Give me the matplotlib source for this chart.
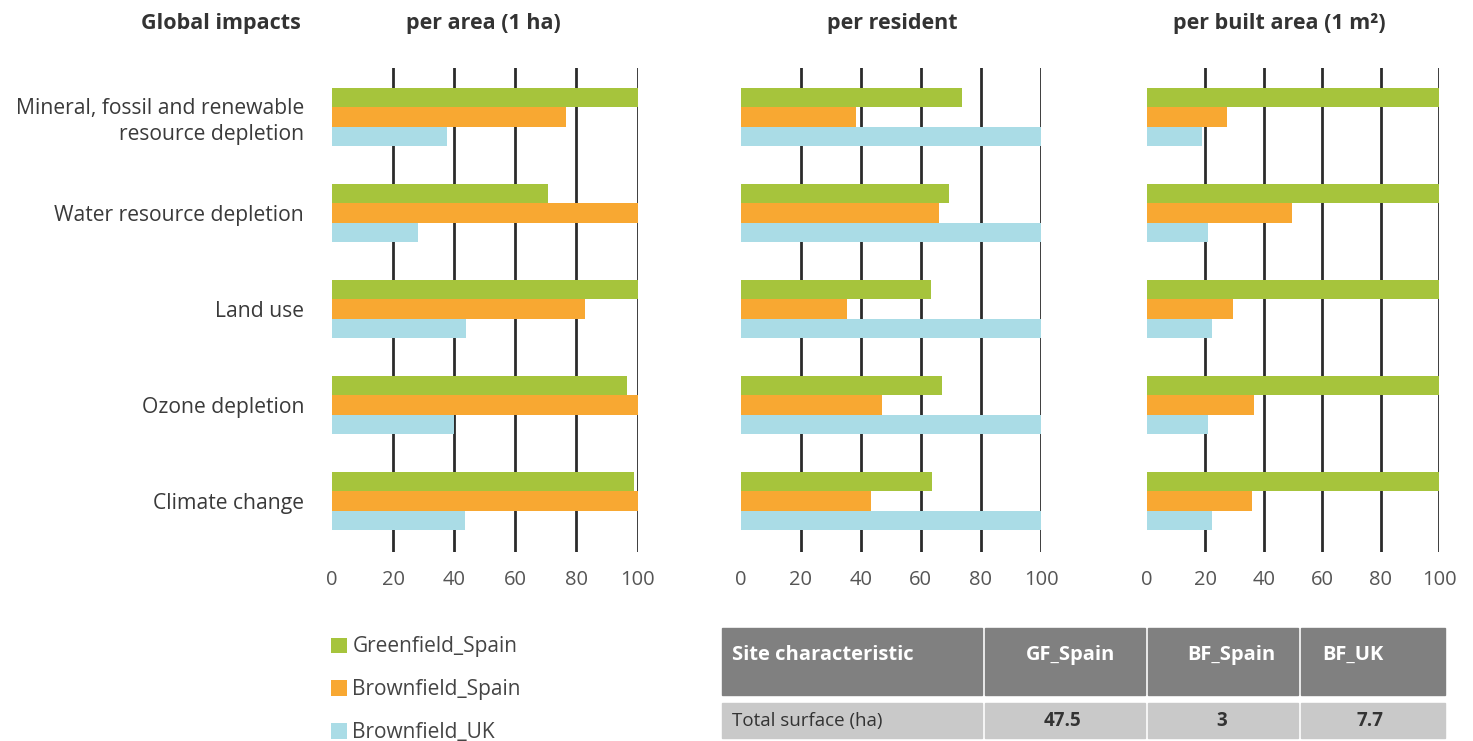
import matplotlib.pyplot as plt
from matplotlib.patches import Patch, Rectangle
import numpy as np

plt.rcParams['font.family'] = ['Open Sans', 'DejaVu Sans']

categories = ['Mineral, fossil and renewable\nresource depletion',
              'Water resource depletion', 'Land use', 'Ozone depletion',
              'Climate change']
series = ['Greenfield_Spain', 'Brownfield_Spain', 'Brownfield_UK']
colors = ['#A6C43C', '#F8A832', '#AADCE6']

panel_titles = ['per area (1 ha)', 'per resident', 'per built area (1 m²)']

# values per panel: [green, orange, blue] for each category
per_area = [[100, 70.8, 100, 96.6, 98.8],
            [76.7, 100, 82.8, 100, 100],
            [37.5, 28, 43.7, 40, 43.5]]
per_resident = [[73.8, 69.5, 63.4, 67.2, 63.7],
                [38.3, 66.2, 35.5, 47, 43.4],
                [100, 100, 100, 100, 100]]
per_built = [[100, 100, 100, 100, 100],
             [27.3, 49.5, 29.5, 36.7, 35.8],
             [18.7, 21, 22.1, 21, 22.4]]
panels = [per_area, per_resident, per_built]

ticks = [0, 20, 40, 60, 80, 100]

table_header = ['Site characteristic', 'GF_Spain', 'BF_Spain', 'BF_UK']
table_row = ['Total surface (ha)', '47.5', '3', '7.7']

W, H = 1473, 741
fig = plt.figure(figsize=(W / 100, H / 100), dpi=100)

# pixel extents of each panel's x axis (0 -> 100)
panel_px = [(332, 637.5), (740.5, 1041), (1147, 1439)]
top_px, bot_px = 68, 552

y = np.arange(len(categories))
bh = 0.203
offsets = [-bh, 0, bh]

axes = []
for k, (x0, x1) in enumerate(panel_px):
    ax = fig.add_axes([x0 / W, 1 - bot_px / H, (x1 - x0) / W, (bot_px - top_px) / H])
    for j in range(3):
        ax.barh(y + offsets[j], panels[k][j], height=bh, color=colors[j], zorder=2)
    for t in ticks[1:]:
        ax.axvline(t, color='#2b2b2b', lw=2, zorder=1)
    ax.set_xlim(0, 100)
    ax.set_ylim(4.53, -0.51)
    ax.set_xticks(ticks)
    ax.tick_params(axis='x', length=0, pad=13, labelsize=14.5, labelcolor='#555555')
    for s in ax.spines.values():
        s.set_visible(False)
    if k == 0:
        ax.set_yticks(y)
        ax.set_yticklabels(categories, fontsize=15.2, color='#3a3a3a',
                           ha='right', multialignment='right', linespacing=1.3)
        ax.tick_params(axis='y', length=0, pad=20)
    else:
        ax.set_yticks([])
    axes.append(ax)

# titles
fig.text(221 / W, 1 - 23 / H, 'Global impacts', fontsize=15.5, fontweight='bold',
         color='#333333', ha='center', va='center')
title_x = [483, 892, 1279]
for tx, tt in zip(title_x, panel_titles):
    fig.text(tx / W, 1 - 23 / H, tt, fontsize=15.5, fontweight='bold',
             color='#333333', ha='center', va='center')

# legend
handles = [Patch(facecolor=c, edgecolor='none') for c in colors]
fig.legend(handles, series, loc='upper left', bbox_to_anchor=(321 / W, 1 - 626 / H),
           frameon=False, fontsize=15, handlelength=0.75, handleheight=0.75,
           handletextpad=0.25, labelspacing=1.05, borderpad=0, labelcolor='#444444')

# table
tab = fig.add_axes([0, 0, 1, 1], zorder=-1)
tab.set_xlim(0, W)
tab.set_ylim(H, 0)
tab.axis('off')
col_edges = [(722, 982), (985, 1145), (1148, 1298), (1301, 1445)]
head_x = [732, 1071, 1231, 1353]
row_x = [732, 1063, 1222, 1370]
for i, (c0, c1) in enumerate(col_edges):
    tab.add_patch(Rectangle((c0, 628), c1 - c0, 67, color='#808080'))
    tab.add_patch(Rectangle((c0, 703), c1 - c0, 35, color='#C9C9C9'))
    ha = 'left' if i == 0 else 'center'
    tab.text(head_x[i], 655, table_header[i], color='white', fontsize=14.5,
             fontweight='bold', ha=ha, va='center')
    tab.text(row_x[i], 721, table_row[i], color='#333333',
             fontsize=13.5, fontweight='bold' if i else 'normal', ha=ha, va='center')

fig.savefig('out.png', dpi=100)
